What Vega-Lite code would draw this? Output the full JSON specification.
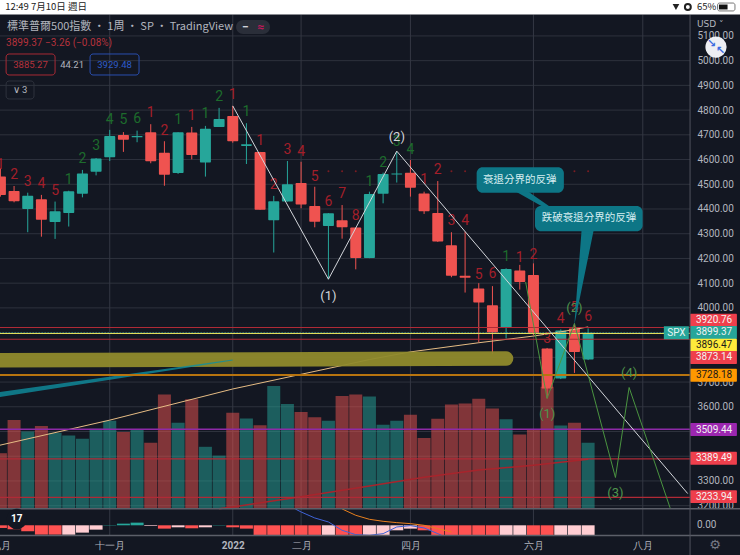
{"$schema":"https://vega.github.io/schema/vega-lite/v6.json","width":740,"height":555,"padding":0,"autosize":"none","background":"#131722","config":{"view":{"stroke":null},"text":{"font":"Roboto"},"axis":{"labelFont":"Roboto"}},
"datasets":{
"candles":[
{"date":"2021-09-06","open":4531,"close":4457,"high":4565,"low":4450,"volume":13.7,"dir":"down"},
{"date":"2021-09-13","open":4473,"close":4431,"high":4493,"low":4427,"volume":22,"dir":"down"},
{"date":"2021-09-20","open":4400,"close":4454,"high":4466,"low":4306,"volume":19.1,"dir":"up"},
{"date":"2021-09-27","open":4439,"close":4356,"high":4457,"low":4288,"volume":20.5,"dir":"down"},
{"date":"2021-10-04","open":4347,"close":4391,"high":4430,"low":4279,"volume":18.8,"dir":"up"},
{"date":"2021-10-11","open":4384,"close":4472,"high":4474,"low":4329,"volume":18.1,"dir":"up"},
{"date":"2021-10-18","open":4462,"close":4544,"high":4558,"low":4447,"volume":17.3,"dir":"up"},
{"date":"2021-10-25","open":4551,"close":4604,"high":4606,"low":4536,"volume":19.8,"dir":"up"},
{"date":"2021-11-01","open":4609,"close":4695,"high":4720,"low":4594,"volume":21.8,"dir":"up"},
{"date":"2021-11-08","open":4699,"close":4680,"high":4711,"low":4631,"volume":19,"dir":"down"},
{"date":"2021-11-15","open":4690,"close":4695,"high":4717,"low":4670,"volume":19.7,"dir":"up"},
{"date":"2021-11-22","open":4710,"close":4593,"high":4743,"low":4585,"volume":16.3,"dir":"down"},
{"date":"2021-11-29","open":4627,"close":4538,"high":4674,"low":4494,"volume":28.4,"dir":"down"},
{"date":"2021-12-06","open":4546,"close":4710,"high":4710,"low":4542,"volume":21.3,"dir":"up"},
{"date":"2021-12-13","open":4709,"close":4618,"high":4732,"low":4601,"volume":27.2,"dir":"down"},
{"date":"2021-12-20","open":4588,"close":4725,"high":4736,"low":4531,"volume":15.3,"dir":"up"},
{"date":"2021-12-27","open":4732,"close":4764,"high":4809,"low":4732,"volume":13.1,"dir":"up"},
{"date":"2022-01-03","open":4776,"close":4674,"high":4817,"low":4668,"volume":23.8,"dir":"down"},
{"date":"2022-01-10","open":4655,"close":4662,"high":4747,"low":4582,"volume":22.4,"dir":"up"},
{"date":"2022-01-17","open":4631,"close":4397,"high":4631,"low":4397,"volume":20.7,"dir":"down"},
{"date":"2022-01-24","open":4354,"close":4431,"high":4453,"low":4224,"volume":30.5,"dir":"up"},
{"date":"2022-01-31","open":4430,"close":4500,"high":4594,"low":4430,"volume":26,"dir":"up"},
{"date":"2022-02-07","open":4505,"close":4418,"high":4591,"low":4403,"volume":24,"dir":"down"},
{"date":"2022-02-14","open":4412,"close":4348,"high":4490,"low":4326,"volume":22.7,"dir":"down"},
{"date":"2022-02-21","open":4331,"close":4383,"high":4383,"low":4116,"volume":21.8,"dir":"up"},
{"date":"2022-02-28","open":4354,"close":4326,"high":4416,"low":4280,"volume":28,"dir":"down"},
{"date":"2022-03-07","open":4325,"close":4202,"high":4325,"low":4156,"volume":28.4,"dir":"down"},
{"date":"2022-03-14","open":4202,"close":4461,"high":4470,"low":4201,"volume":27.9,"dir":"up"},
{"date":"2022-03-21","open":4462,"close":4542,"high":4547,"low":4423,"volume":20.8,"dir":"up"},
{"date":"2022-03-28","open":4540,"close":4544,"high":4632,"low":4507,"volume":21.8,"dir":"up"},
{"date":"2022-04-04","open":4547,"close":4486,"high":4598,"low":4450,"volume":23.3,"dir":"down"},
{"date":"2022-04-11","open":4463,"close":4391,"high":4470,"low":4380,"volume":17.5,"dir":"down"},
{"date":"2022-04-18","open":4384,"close":4269,"high":4513,"low":4267,"volume":22.3,"dir":"down"},
{"date":"2022-04-25","open":4253,"close":4130,"high":4306,"low":4124,"volume":25.9,"dir":"down"},
{"date":"2022-05-02","open":4130,"close":4122,"high":4308,"low":4062,"volume":26.1,"dir":"down"},
{"date":"2022-05-09","open":4078,"close":4022,"high":4100,"low":3860,"volume":27.3,"dir":"down"},
{"date":"2022-05-16","open":4011,"close":3900,"high":4088,"low":3813,"volume":24.9,"dir":"down"},
{"date":"2022-05-23","open":3919,"close":4157,"high":4160,"low":3876,"volume":22.2,"dir":"up"},
{"date":"2022-05-30","open":4151,"close":4105,"high":4174,"low":4074,"volume":18.4,"dir":"down"},
{"date":"2022-06-06","open":4133,"close":3896,"high":4180,"low":3890,"volume":19.7,"dir":"down"},
{"date":"2022-06-13","open":3836,"close":3674,"high":3838,"low":3634,"volume":30.3,"dir":"down"},
{"date":"2022-06-20","open":3714,"close":3909,"high":3913,"low":3712,"volume":20.6,"dir":"up"},
{"date":"2022-06-27","open":3917,"close":3822,"high":3937,"low":3737,"volume":21.3,"dir":"down"},
{"date":"2022-07-04","open":3791,"close":3899,"high":3917,"low":3789,"volume":16.3,"dir":"up"}
],
"macd":[
{"date":"2021-09-06","hist":-8,"kind":"down"},{"date":"2021-09-13","hist":-12,"kind":"down"},{"date":"2021-09-20","hist":-18,"kind":"down"},{"date":"2021-09-27","hist":-28,"kind":"down"},{"date":"2021-10-04","hist":-28,"kind":"down"},{"date":"2021-10-11","hist":-28,"kind":"fade"},{"date":"2021-10-18","hist":-22,"kind":"fade"},{"date":"2021-10-25","hist":-13,"kind":"fade"},{"date":"2021-11-01","hist":-1,"kind":"up"},{"date":"2021-11-08","hist":5,"kind":"up"},{"date":"2021-11-15","hist":8,"kind":"up"},{"date":"2021-11-22","hist":-2,"kind":"fade"},{"date":"2021-11-29","hist":-10,"kind":"down"},{"date":"2021-12-06","hist":-6,"kind":"fade"},{"date":"2021-12-13","hist":-9,"kind":"down"},{"date":"2021-12-20","hist":-6,"kind":"fade"},{"date":"2021-12-27","hist":-1,"kind":"up"},{"date":"2022-01-03","hist":-6,"kind":"down"},{"date":"2022-01-10","hist":-10,"kind":"down"},{"date":"2022-01-17","hist":-29,"kind":"down"},{"date":"2022-01-24","hist":-29,"kind":"down"},{"date":"2022-01-31","hist":-29,"kind":"down"},{"date":"2022-02-07","hist":-29,"kind":"down"},{"date":"2022-02-14","hist":-29,"kind":"down"},{"date":"2022-02-21","hist":-29,"kind":"fade"},{"date":"2022-02-28","hist":-29,"kind":"down"},{"date":"2022-03-07","hist":-29,"kind":"down"},{"date":"2022-03-14","hist":-29,"kind":"fade"},{"date":"2022-03-21","hist":-29,"kind":"fade"},{"date":"2022-03-28","hist":-15,"kind":"fade"},{"date":"2022-04-04","hist":-10,"kind":"fade"},{"date":"2022-04-11","hist":-15,"kind":"down"},{"date":"2022-04-18","hist":-30,"kind":"down"},{"date":"2022-04-25","hist":-30,"kind":"down"},{"date":"2022-05-02","hist":-30,"kind":"down"},{"date":"2022-05-09","hist":-30,"kind":"down"},{"date":"2022-05-16","hist":-30,"kind":"down"},{"date":"2022-05-23","hist":-30,"kind":"fade"},{"date":"2022-05-30","hist":-30,"kind":"fade"},{"date":"2022-06-06","hist":-30,"kind":"down"},{"date":"2022-06-13","hist":-30,"kind":"down"},{"date":"2022-06-20","hist":-30,"kind":"fade"},{"date":"2022-06-27","hist":-30,"kind":"fade"},{"date":"2022-07-04","hist":-30,"kind":"fade"}
]
},
"encoding":{"x":{"field":"date","type":"temporal","title":null,"scale":{"type":"utc","padding":0,"domain":["2021-09-05T19:00:00Z","2022-09-19T19:00:00Z"]},"axis":{"orient":"bottom","offset":-20,"grid":false,"domain":false,"ticks":false,"labelPadding":5,"labelFontSize":10,"labelColor":"#b2b5be","labelFlush":false,"labelOverlap":false,"labelBound":false,"title":null,"values":[{"year":2021,"month":9,"date":6,"utc":true},{"year":2021,"month":11,"date":1,"utc":true},{"year":2022,"month":1,"date":3,"utc":true},{"year":2022,"month":2,"date":7,"utc":true},{"year":2022,"month":4,"date":4,"utc":true},{"year":2022,"month":6,"date":6,"utc":true},{"year":2022,"month":8,"date":1,"utc":true}],"labelExpr":"utcmonth(datum.value)==8?'九月':utcmonth(datum.value)==10?'十一月':utcmonth(datum.value)==0?'2022':utcmonth(datum.value)==1?'二月':utcmonth(datum.value)==3?'四月':utcmonth(datum.value)==5?'六月':'八月'","labelFontWeight":{"condition":{"test":"utcmonth(datum.value)==0","value":"bold"},"value":"normal"}}}},
"resolve":{"scale":{"y":"independent"}},
"layer":[
{"data":{"values":[{"date":"2021-09-01","date2":"2022-08-25T05:00:00Z","p":3200},{"date":"2021-09-01","date2":"2022-08-25T05:00:00Z","p":3300},{"date":"2021-09-01","date2":"2022-08-25T05:00:00Z","p":3400},{"date":"2021-09-01","date2":"2022-08-25T05:00:00Z","p":3500},{"date":"2021-09-01","date2":"2022-08-25T05:00:00Z","p":3600},{"date":"2021-09-01","date2":"2022-08-25T05:00:00Z","p":3700},{"date":"2021-09-01","date2":"2022-08-25T05:00:00Z","p":3800},{"date":"2021-09-01","date2":"2022-08-25T05:00:00Z","p":3900},{"date":"2021-09-01","date2":"2022-08-25T05:00:00Z","p":4000},{"date":"2021-09-01","date2":"2022-08-25T05:00:00Z","p":4100},{"date":"2021-09-01","date2":"2022-08-25T05:00:00Z","p":4200},{"date":"2021-09-01","date2":"2022-08-25T05:00:00Z","p":4300},{"date":"2021-09-01","date2":"2022-08-25T05:00:00Z","p":4400},{"date":"2021-09-01","date2":"2022-08-25T05:00:00Z","p":4500},{"date":"2021-09-01","date2":"2022-08-25T05:00:00Z","p":4600},{"date":"2021-09-01","date2":"2022-08-25T05:00:00Z","p":4700},{"date":"2021-09-01","date2":"2022-08-25T05:00:00Z","p":4800},{"date":"2021-09-01","date2":"2022-08-25T05:00:00Z","p":4900},{"date":"2021-09-01","date2":"2022-08-25T05:00:00Z","p":5000},{"date":"2021-09-01","date2":"2022-08-25T05:00:00Z","p":5100}]},"mark":{"type":"rule","color":"#2e323d","strokeWidth":1},"encoding":{"x2":{"field":"date2"},"y":{"field":"p","type":"quantitative","title":null,"scale":{"domain":[3000.5,5245.3],"nice":false,"zero":false,"padding":0},"axis":{"orient":"right","offset":-50,"grid":false,"domain":false,"ticks":false,"labelPadding":7,"labelFontSize":10,"labelColor":"#b2b5be","labelFlush":false,"labelOverlap":false,"labelBound":false,"format":".2f","title":null,"values":[3200,3300,3400,3500,3600,3700,3800,3900,4000,4100,4200,4300,4400,4500,4600,4700,4800,4900,5000,5100]}}}},
{"data":{"values":[{"date":"2021-11-01","lo":3079.6,"hi":5186},{"date":"2022-01-03","lo":3079.6,"hi":5186},{"date":"2022-02-07","lo":3079.6,"hi":5186},{"date":"2022-04-04","lo":3079.6,"hi":5186},{"date":"2022-06-06","lo":3079.6,"hi":5186},{"date":"2022-08-01","lo":3079.6,"hi":5186}]},"mark":{"type":"rule","color":"#343843","strokeWidth":1},"encoding":{"y":{"field":"lo","type":"quantitative","axis":null,"scale":{"domain":[3000.5,5245.3],"nice":false,"zero":false}},"y2":{"field":"hi"}}},
{"data":{"name":"candles"},"mark":{"type":"bar","size":13,"opacity":0.5},"encoding":{"y":{"field":"volume","type":"quantitative","axis":null,"scale":{"domain":[0,40],"range":[508,348],"nice":false,"zero":true}},"color":{"condition":{"test":"datum.dir=='up'","value":"#26a69a"},"value":"#ef5350"}}},
{"layer":[
{"data":{"name":"macd"},"mark":{"type":"bar","size":13},"encoding":{"y":{"field":"hist","type":"quantitative","axis":null,"scale":{"domain":[-30,48],"range":[535.3,509.3],"nice":false,"zero":true}},"y2":{"datum":0},"color":{"condition":[{"test":"datum.kind=='up'","value":"#26a69a"},{"test":"datum.kind=='fade'","value":"#ffcdd2"}],"value":"#ff5252"}}},
{"data":{"values":[{"date":"2022-02-04","v":49},{"date":"2022-02-07","v":40},{"date":"2022-02-14","v":22},{"date":"2022-02-21","v":10},{"date":"2022-02-28","v":-15},{"date":"2022-03-07","v":-28},{"date":"2022-03-14","v":-30},{"date":"2022-03-21","v":-25},{"date":"2022-03-28","v":-5},{"date":"2022-04-04","v":-1},{"date":"2022-04-11","v":-8},{"date":"2022-04-18","v":-25},{"date":"2022-04-20","v":-30}]},"mark":{"type":"line","color":"#3f63d8","strokeWidth":1},"encoding":{"y":{"field":"v","type":"quantitative","axis":null}}},
{"data":{"values":[{"date":"2022-02-28","v":49},{"date":"2022-03-07","v":30},{"date":"2022-03-14","v":18},{"date":"2022-03-21","v":12},{"date":"2022-03-28","v":8},{"date":"2022-04-04","v":5},{"date":"2022-04-11","v":0},{"date":"2022-04-18","v":-10},{"date":"2022-04-25","v":-20}]},"mark":{"type":"line","color":"#e8801e","strokeWidth":1},"encoding":{"y":{"field":"v","type":"quantitative","axis":null}}},
{"data":{"values":[{"date":"2022-08-28T17:00:00Z","v":0,"t":"0.00"}]},"mark":{"type":"text","align":"left","baseline":"middle","fontSize":10,"color":"#b2b5be"},"encoding":{"y":{"field":"v","type":"quantitative","axis":null},"text":{"field":"t"}}}
]},
{"layer":[
{"data":{"name":"candles"},"mark":{"type":"rule","strokeWidth":1},"encoding":{"y":{"field":"low","type":"quantitative","axis":null,"scale":{"domain":[3000.5,5245.3],"nice":false,"zero":false,"padding":0}},"y2":{"field":"high"},"color":{"condition":{"test":"datum.dir=='up'","value":"#26a69a"},"value":"#ef5350"}}},
{"data":{"name":"candles"},"mark":{"type":"bar","size":11,"cornerRadius":1},"encoding":{"y":{"field":"open","type":"quantitative","axis":null},"y2":{"field":"close"},"color":{"condition":{"test":"datum.dir=='up'","value":"#26a69a"},"value":"#ef5350"}}},
{"data":{"values":[{"date":"2021-09-01","p":3436},{"date":"2021-11-01","p":3546},{"date":"2022-01-03","p":3672},{"date":"2022-02-28","p":3767},{"date":"2022-03-14","p":3791},{"date":"2022-04-04","p":3822},{"date":"2022-05-09","p":3859},{"date":"2022-06-06","p":3886},{"date":"2022-06-20","p":3903},{"date":"2022-07-04","p":3923}]},"mark":{"type":"line","color":"#e6bc84","strokeWidth":1},"encoding":{"y":{"field":"p","type":"quantitative","axis":null}}},
{"data":{"values":[{"date":"2021-12-27","p":3188},{"date":"2022-01-03","p":3195},{"date":"2022-02-07","p":3236},{"date":"2022-03-14","p":3280},{"date":"2022-04-11","p":3315},{"date":"2022-05-09","p":3344},{"date":"2022-06-06","p":3364},{"date":"2022-07-04","p":3388}]},"mark":{"type":"line","color":"#a8242c","strokeWidth":1.5},"encoding":{"y":{"field":"p","type":"quantitative","axis":null}}},
{"data":{"values":[{"date":"2021-09-06","p":4578,"t":"1","k":"r"},{"date":"2021-09-13","p":4538,"t":"2","k":"r"},{"date":"2021-09-20","p":4511,"t":"3","k":"r"},{"date":"2021-09-27","p":4503,"t":"4","k":"r"},{"date":"2021-10-04","p":4474,"t":"5","k":"r"},{"date":"2021-10-11","p":4517,"t":"1","k":"g"},{"date":"2021-10-18","p":4604,"t":"2","k":"g"},{"date":"2021-10-25","p":4655,"t":"3","k":"g"},{"date":"2021-11-01","p":4760,"t":"4","k":"g"},{"date":"2021-11-08","p":4760,"t":"5","k":"g"},{"date":"2021-11-15","p":4763,"t":"6","k":"g"},{"date":"2021-11-22","p":4787,"t":"1","k":"r"},{"date":"2021-11-29","p":4717,"t":"2","k":"r"},{"date":"2021-12-06","p":4760,"t":"1","k":"g"},{"date":"2021-12-13","p":4776,"t":"1","k":"r"},{"date":"2021-12-20","p":4783,"t":"1","k":"g"},{"date":"2021-12-27","p":4852,"t":"2","k":"g"},{"date":"2022-01-03","p":4860,"t":"1","k":"r"},{"date":"2022-01-10","p":4794,"t":"1","k":"g"},{"date":"2022-01-17","p":4675,"t":"1","k":"r"},{"date":"2022-01-24","p":4497,"t":"2","k":"r"},{"date":"2022-01-31","p":4639,"t":"3","k":"r"},{"date":"2022-02-07","p":4632,"t":"4","k":"r"},{"date":"2022-02-14","p":4531,"t":"5","k":"r"},{"date":"2022-02-21","p":4427,"t":"6","k":"r"},{"date":"2022-02-28","p":4461,"t":"7","k":"r"},{"date":"2022-03-07","p":4372,"t":"8","k":"r"},{"date":"2022-03-14","p":4511,"t":"1","k":"g"},{"date":"2022-03-21","p":4587,"t":"2","k":"g"},{"date":"2022-03-28","p":4672,"t":"3","k":"g"},{"date":"2022-04-04","p":4639,"t":"4","k":"g"},{"date":"2022-04-11","p":4517,"t":"1","k":"r"},{"date":"2022-04-18","p":4556,"t":"2","k":"r"},{"date":"2022-04-25","p":4353,"t":"3","k":"r"},{"date":"2022-05-02","p":4353,"t":"4","k":"r"},{"date":"2022-05-09","p":4133,"t":"5","k":"r"},{"date":"2022-05-16","p":4137,"t":"6","k":"r"},{"date":"2022-05-23","p":4205,"t":"1","k":"g"},{"date":"2022-05-30","p":4201,"t":"1","k":"r"},{"date":"2022-06-06","p":4213,"t":"2","k":"r"},{"date":"2022-06-13","p":3876,"t":"3","k":"r"},{"date":"2022-06-20","p":3957,"t":"4","k":"r"},{"date":"2022-06-27","p":3998,"t":"5","k":"r"},{"date":"2022-07-04","p":3964,"t":"6","k":"r"}]},"mark":{"type":"text","fontSize":14,"baseline":"middle","align":"center"},"encoding":{"y":{"field":"p","type":"quantitative","axis":null},"text":{"field":"t"},"color":{"condition":{"test":"datum.k=='g'","value":"#1d6b2c"},"value":"#a31f2a"}}},
{"data":{"values":[{"date":"2022-02-21","p":4553},{"date":"2022-02-28","p":4553},{"date":"2022-03-07","p":4553},{"date":"2022-04-25","p":4553},{"date":"2022-05-02","p":4553},{"date":"2022-06-27","p":4553},{"date":"2022-07-04","p":4553}]},"mark":{"type":"point","filled":true,"size":4,"color":"#7a1c22","opacity":1},"encoding":{"y":{"field":"p","type":"quantitative","axis":null}}},
{"data":{"values":[{"date":"2021-09-01","p":3788},{"date":"2022-05-23","p":3795}]},"mark":{"type":"line","color":"#8f8a2c","strokeWidth":14.5,"strokeCap":"round","opacity":0.95},"encoding":{"y":{"field":"p","type":"quantitative","axis":null}}},
{"data":{"values":[{"date":"2021-09-01","a":3634,"b":3654},{"date":"2022-01-03","a":3787,"b":3791}]},"mark":{"type":"area","color":"#0f8ea0","opacity":0.8},"encoding":{"y":{"field":"a","type":"quantitative","axis":null},"y2":{"field":"b"}}},
{"data":{"values":[{"date":"2021-09-01","date2":"2022-08-25T05:00:00Z","p":3899.37}]},"mark":{"type":"rule","color":"#26a69a","strokeWidth":1,"strokeDash":[1,2]},"encoding":{"x2":{"field":"date2"},"y":{"field":"p","type":"quantitative","axis":null}}},
{"data":{"values":[{"date":"2021-09-01","date2":"2022-08-25T05:00:00Z","p":3920.76,"k":"red"},{"date":"2021-09-01","date2":"2022-08-25T05:00:00Z","p":3873.14,"k":"red"},{"date":"2021-09-01","date2":"2022-08-25T05:00:00Z","p":3896.47,"k":"yellow"},{"date":"2021-09-01","date2":"2022-08-25T05:00:00Z","p":3728.18,"k":"orange"},{"date":"2021-09-01","date2":"2022-08-25T05:00:00Z","p":3509.44,"k":"purple"},{"date":"2021-09-01","date2":"2022-08-25T05:00:00Z","p":3389.49,"k":"red"},{"date":"2021-09-01","date2":"2022-08-25T05:00:00Z","p":3233.94,"k":"red"}]},"mark":{"type":"rule"},"encoding":{"x2":{"field":"date2"},"y":{"field":"p","type":"quantitative","axis":null},"strokeWidth":{"condition":[{"test":"datum.k=='orange'","value":2},{"test":"datum.k=='purple'","value":1.5}],"value":1.2},"color":{"condition":[{"test":"datum.k=='yellow'","value":"#e3dc5a"},{"test":"datum.k=='orange'","value":"#b8740f"},{"test":"datum.k=='purple'","value":"#8e2aa8"}],"value":"#b02a36"}}},
{"data":{"values":[{"date":"2022-01-03","p":4817},{"date":"2022-02-21","p":4116},{"date":"2022-03-28","p":4634},{"date":"2022-08-24","p":3249}]},"mark":{"type":"line","color":"#d3d6db","strokeWidth":1},"encoding":{"y":{"field":"p","type":"quantitative","axis":null}}},
{"data":{"values":[{"date":"2022-06-02","p":4105},{"date":"2022-06-13","p":3634},{"date":"2022-06-27","p":3937},{"date":"2022-07-18","p":3314},{"date":"2022-07-25","p":3678},{"date":"2022-08-15","p":3191}]},"mark":{"type":"line","color":"#4a9440","strokeWidth":1},"encoding":{"y":{"field":"p","type":"quantitative","axis":null}}},
{"data":{"values":[{"date":"2022-02-21","p":4049,"t":"(1)","k":"w"},{"date":"2022-03-28","p":4693,"t":"(2)","k":"w"},{"date":"2022-06-13","p":3570,"t":"(1)","k":"g"},{"date":"2022-06-27","p":3999,"t":"(2)","k":"g"},{"date":"2022-07-18","p":3252,"t":"(3)","k":"g"},{"date":"2022-07-25","p":3736,"t":"(4)","k":"g"}]},"mark":{"type":"text","fontSize":13,"baseline":"middle","align":"center"},"encoding":{"y":{"field":"p","type":"quantitative","axis":null},"text":{"field":"t"},"color":{"condition":{"test":"datum.k=='g'","value":"#4f944c"},"value":"#d3d6db"}}},
{"data":{"values":[{"date":"2022-05-27","date2":"2022-06-02T12:00:00Z","p":4475,"id":"a"},{"date":"2022-05-30","date2":"2022-05-30","p":4167,"id":"a"},{"date":"2022-06-30T17:00:00Z","date2":"2022-07-07","p":4320,"id":"b"},{"date":"2022-06-26T22:00:00Z","date2":"2022-06-26T22:00:00Z","p":3930,"id":"b"}]},"mark":{"type":"area","orient":"horizontal","color":"#0d7686"},"encoding":{"x2":{"field":"date2"},"y":{"field":"p","type":"quantitative","axis":null},"detail":{"field":"id"}}},
{"data":{"values":[{"date":"2022-05-07T22:00:00Z","date2":"2022-06-21T14:00:00Z","a":4568.6,"b":4466},{"date":"2022-06-06T19:00:00Z","date2":"2022-07-31T22:00:00Z","a":4412,"b":4310}]},"mark":{"type":"rect","color":"#0d7686","cornerRadius":6},"encoding":{"x2":{"field":"date2"},"y":{"field":"a","type":"quantitative","axis":null},"y2":{"field":"b"}}},
{"data":{"values":[{"date":"2022-05-30","p":4519,"t":"衰退分界的反弹"},{"date":"2022-07-04T10:00:00Z","p":4365,"t":"跌破衰退分界的反弹"}]},"mark":{"type":"text","font":"Noto Sans CJK TC","fontSize":10.5,"color":"#d5edf0","baseline":"middle","align":"center"},"encoding":{"y":{"field":"p","type":"quantitative","axis":null},"text":{"field":"t"}}},
{"data":{"values":[{"date":"2022-08-11T19:00:00Z","date2":"2022-08-24T14:00:00Z","p":3899.37}]},"mark":{"type":"bar","orient":"horizontal","size":13,"color":"#26a69a"},"encoding":{"x2":{"field":"date2"},"y":{"field":"p","type":"quantitative","axis":null}}},
{"data":{"values":[{"date":"2022-08-18T05:00:00Z","p":3899.37,"t":"SPX"}]},"mark":{"type":"text","fontSize":10,"color":"#e8f5f4","baseline":"middle","align":"center"},"encoding":{"y":{"field":"p","type":"quantitative","axis":null},"text":{"field":"t"}}},
{"data":{"values":[{"date":"2022-08-25T05:00:00Z","date2":"2022-09-18T05:00:00Z","a":3976.6,"b":3924.2,"k":"red"},{"date":"2022-08-25T05:00:00Z","date2":"2022-09-18T05:00:00Z","a":3926.7,"b":3874.3,"k":"teal"},{"date":"2022-08-25T05:00:00Z","date2":"2022-09-18T05:00:00Z","a":3875.4,"b":3823,"k":"yellow"},{"date":"2022-08-25T05:00:00Z","date2":"2022-09-18T05:00:00Z","a":3825.6,"b":3773.2,"k":"red"},{"date":"2022-08-25T05:00:00Z","date2":"2022-09-18T05:00:00Z","a":3754.1,"b":3701.7,"k":"orange"},{"date":"2022-08-25T05:00:00Z","date2":"2022-09-18T05:00:00Z","a":3533.9,"b":3481.5,"k":"purple"},{"date":"2022-08-25T05:00:00Z","date2":"2022-09-18T05:00:00Z","a":3417.8,"b":3365.4,"k":"red"},{"date":"2022-08-25T05:00:00Z","date2":"2022-09-18T05:00:00Z","a":3262.8,"b":3210.4,"k":"red"}]},"mark":{"type":"rect","cornerRadius":1},"encoding":{"x2":{"field":"date2"},"y":{"field":"a","type":"quantitative","axis":null},"y2":{"field":"b"},"color":{"condition":[{"test":"datum.k=='teal'","value":"#26a69a"},{"test":"datum.k=='yellow'","value":"#ffeb3b"},{"test":"datum.k=='orange'","value":"#ff9800"},{"test":"datum.k=='purple'","value":"#9c27b0"}],"value":"#ef3f4c"}}},
{"data":{"values":[{"date":"2022-08-25T05:00:00Z","p":3950.4,"t":"3920.76","k":"red"},{"date":"2022-08-25T05:00:00Z","p":3900.5,"t":"3899.37","k":"teal"},{"date":"2022-08-25T05:00:00Z","p":3849.2,"t":"3896.47","k":"yellow"},{"date":"2022-08-25T05:00:00Z","p":3799.4,"t":"3873.14","k":"red"},{"date":"2022-08-25T05:00:00Z","p":3727.9,"t":"3728.18","k":"orange"},{"date":"2022-08-25T05:00:00Z","p":3507.7,"t":"3509.44","k":"purple"},{"date":"2022-08-25T05:00:00Z","p":3391.6,"t":"3389.49","k":"red"},{"date":"2022-08-25T05:00:00Z","p":3236.6,"t":"3233.94","k":"red"}]},"mark":{"type":"text","fontSize":10,"align":"center","baseline":"middle","dx":24},"encoding":{"y":{"field":"p","type":"quantitative","axis":null},"text":{"field":"t"},"color":{"condition":[{"test":"datum.k=='yellow'||datum.k=='orange'","value":"#1a1a1a"}],"value":"#f2f2f2"}}},
{"data":{"values":[{"date":"2021-09-01","date2":"2022-09-25","p":3188},{"date":"2021-09-01","date2":"2022-09-25","p":3079.6}]},"mark":{"type":"rule","color":"#5c5f69","strokeWidth":1.5},"encoding":{"x2":{"field":"date2"},"y":{"field":"p","type":"quantitative","axis":null}}},
{"data":{"values":[{"date":"2022-08-25T05:00:00Z","lo":3000.5,"hi":5186}]},"mark":{"type":"rule","color":"#50535e","strokeWidth":1},"encoding":{"y":{"field":"lo","type":"quantitative","axis":null},"y2":{"field":"hi"}}},
{"data":{"values":[{"date":"2021-09-14T10:00:00Z","p":3146}]},"mark":{"type":"point","filled":true,"size":420,"shape":"circle","color":"#131722","opacity":1},"encoding":{"y":{"field":"p","type":"quantitative","axis":null}}},
{"data":{"values":[{"date":"2021-09-14T10:00:00Z","p":3146,"t":"17"}]},"mark":{"type":"text","fontSize":10,"fontWeight":"bold","color":"#ffffff","baseline":"middle","align":"center"},"encoding":{"y":{"field":"p","type":"quantitative","axis":null},"text":{"field":"t"}}},
{"data":{"values":[{"date":"2022-09-07","p":3041.3,"t":"⚙"}]},"mark":{"type":"text","font":"DejaVu Sans","fontSize":13,"color":"#787b86","baseline":"middle","align":"center"},"encoding":{"y":{"field":"p","type":"quantitative","axis":null},"text":{"field":"t"}}},
{"data":{"values":[{"date":"2021-09-01","date2":"2022-09-25","a":5186.7,"b":5246}]},"mark":{"type":"rect","color":"#ffffff"},"encoding":{"x2":{"field":"date2"},"y":{"field":"a","type":"quantitative","axis":null},"y2":{"field":"b"}}},
{"data":{"values":[{"date":"2021-09-08T10:00:00Z","p":5217,"t":"12:49   7月10日 週日"},{"date":"2022-08-28T17:00:00Z","p":5217,"t":"65%"}]},"mark":{"type":"text","font":"Noto Sans CJK TC","fontSize":9.5,"color":"#222222","baseline":"middle","align":"left"},"encoding":{"y":{"field":"p","type":"quantitative","axis":null},"text":{"field":"t"}}},
{"data":{"values":[{"date":"2022-09-08T07:00:00Z","date2":"2022-09-17T05:00:00Z","a":5233,"b":5201}]},"mark":{"type":"rect","fill":"#ffffff","stroke":"#777777","strokeWidth":1,"cornerRadius":2},"encoding":{"x2":{"field":"date2"},"y":{"field":"a","type":"quantitative","axis":null},"y2":{"field":"b"}}},
{"data":{"values":[{"date":"2022-09-09","date2":"2022-09-13T10:00:00Z","a":5227,"b":5207}]},"mark":{"type":"rect","color":"#111111"},"encoding":{"x2":{"field":"date2"},"y":{"field":"a","type":"quantitative","axis":null},"y2":{"field":"b"}}},
{"data":{"values":[{"date":"2022-08-18","p":5217}]},"mark":{"type":"point","filled":true,"shape":"triangle-down","size":45,"color":"#222222","opacity":1},"encoding":{"y":{"field":"p","type":"quantitative","axis":null}}},
{"data":{"values":[{"date":"2022-08-24T02:00:00Z","p":5217}]},"mark":{"type":"point","filled":false,"shape":"circle","size":35,"color":"#222222","opacity":1},"encoding":{"y":{"field":"p","type":"quantitative","axis":null}}},
{"data":{"values":[{"date":"2021-09-09T09:36:00Z","p":5136,"t":"標準普爾500指數 · 1周 · SP · TradingView"}]},"mark":{"type":"text","font":"Noto Sans CJK TC","fontSize":11,"color":"#b2b5be","baseline":"middle","align":"left"},"encoding":{"y":{"field":"p","type":"quantitative","axis":null},"text":{"field":"t"}}},
{"data":{"values":[{"date":"2021-09-08T22:00:00Z","p":5071.4,"t":"3899.37  −3.26 (−0.08%)"}]},"mark":{"type":"text","fontSize":10,"color":"#b5323c","baseline":"middle","align":"left"},"encoding":{"y":{"field":"p","type":"quantitative","axis":null},"text":{"field":"t"}}},
{"data":{"values":[{"date":"2022-01-04T17:00:00Z","date2":"2022-01-22T02:00:00Z","a":5164.4,"b":5107.8}]},"mark":{"type":"rect","color":"#2a2e39","cornerRadius":7},"encoding":{"x2":{"field":"date2"},"y":{"field":"a","type":"quantitative","axis":null},"y2":{"field":"b"}}},
{"data":{"values":[{"date":"2022-01-09T10:00:00Z","p":5136,"t":"−","k":"w"},{"date":"2022-01-17T12:00:00Z","p":5136,"t":"≈","k":"p"}]},"mark":{"type":"text","fontSize":12,"fontWeight":"bold","baseline":"middle","align":"center"},"encoding":{"y":{"field":"p","type":"quantitative","axis":null},"text":{"field":"t"},"color":{"condition":{"test":"datum.k=='p'","value":"#c2185b"},"value":"#d1d4dc"}}},
{"data":{"values":[{"date":"2021-09-08T22:00:00Z","date2":"2021-10-04","a":5026.9,"b":4942,"k":"red"},{"date":"2021-10-21T22:00:00Z","date2":"2021-11-16","a":5026.9,"b":4942,"k":"blue"},{"date":"2021-09-08T22:00:00Z","date2":"2021-09-23T05:00:00Z","a":4917.7,"b":4845,"k":"grey"}]},"mark":{"type":"rect","filled":false,"strokeWidth":1,"cornerRadius":3},"encoding":{"x2":{"field":"date2"},"y":{"field":"a","type":"quantitative","axis":null},"y2":{"field":"b"},"stroke":{"condition":[{"test":"datum.k=='red'","value":"#a82a35"},{"test":"datum.k=='blue'","value":"#2a4fb0"}],"value":"#2e323d"}}},
{"data":{"values":[{"date":"2021-09-21T10:00:00Z","p":4982.4,"t":"3885.27","k":"red"},{"date":"2021-10-12T17:00:00Z","p":4982.4,"t":"44.21","k":"grey"},{"date":"2021-11-03T11:00:00Z","p":4982.4,"t":"3929.48","k":"blue"},{"date":"2021-09-16","p":4881,"t":"∨ 3","k":"grey"}]},"mark":{"type":"text","fontSize":9.5,"baseline":"middle","align":"center"},"encoding":{"y":{"field":"p","type":"quantitative","axis":null},"text":{"field":"t"},"color":{"condition":[{"test":"datum.k=='red'","value":"#b5323c"},{"test":"datum.k=='blue'","value":"#2f5cc8"}],"value":"#b2b5be"}}},
{"data":{"values":[{"date":"2022-08-28T17:00:00Z","p":5148,"t":"USD ˅"}]},"mark":{"type":"text","font":"DejaVu Sans","fontSize":9,"color":"#b2b5be","baseline":"middle","align":"left"},"encoding":{"y":{"field":"p","type":"quantitative","axis":null},"text":{"field":"t"}}},
{"data":{"values":[{"date":"2022-09-07T12:00:00Z","p":5055}]},"mark":{"type":"point","filled":true,"shape":"circle","size":450,"color":"#f5f6fa","opacity":0.97},"encoding":{"y":{"field":"p","type":"quantitative","axis":null}}},
{"data":{"values":[{"date":"2022-09-05T05:00:00Z","p":5069,"t":"↘"},{"date":"2022-09-09T19:00:00Z","p":5037,"t":"↖"}]},"mark":{"type":"text","font":"DejaVu Sans","fontSize":11,"fontWeight":"bold","color":"#3d6be0","baseline":"middle","align":"center"},"encoding":{"y":{"field":"p","type":"quantitative","axis":null},"text":{"field":"t"}}}
]}
]}
